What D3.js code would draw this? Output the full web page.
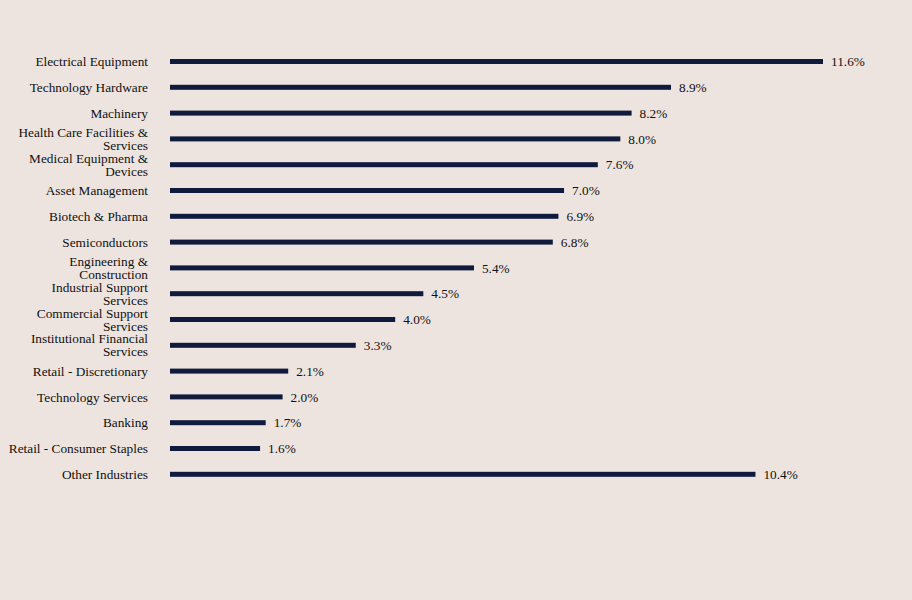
<!DOCTYPE html>
<html>
<head>
<meta charset="utf-8">
<script src="https://cdn.jsdelivr.net/npm/d3@7/dist/d3.min.js"></script>
<style>
    body {
        margin: 0;
        background: #ede4df;
    }

    text.cat, text.val {
        font-family: "Liberation Serif", "Times New Roman", serif;
        font-size: 13.3px;
        fill: #111;
    }
</style>
</head>
<body>
<div id="chart"></div>
<script>
    var categories = [
        "Electrical Equipment",
        "Technology Hardware",
        "Machinery",
        "Health Care Facilities & Services",
        "Medical Equipment & Devices",
        "Asset Management",
        "Biotech & Pharma",
        "Semiconductors",
        "Engineering & Construction",
        "Industrial Support Services",
        "Commercial Support Services",
        "Institutional Financial Services",
        "Retail - Discretionary",
        "Technology Services",
        "Banking",
        "Retail - Consumer Staples",
        "Other Industries"
    ];
    var values = [11.6, 8.9, 8.2, 8.0, 7.6, 7.0, 6.9, 6.8, 5.4, 4.5, 4.0, 3.3, 2.1, 2.0, 1.7, 1.6, 10.4];

    var width = 912,
        height = 600;

    var svg = d3.select("#chart").append("svg")
        .attr("width", width)
        .attr("height", height);

    svg.append("rect")
        .attr("width", width)
        .attr("height", height)
        .attr("fill", "#ede4df");

    var x = d3.scaleLinear()
        .domain([0, 11.6])
        .range([170, 823]);

    var y = d3.scaleBand()
        .domain(categories)
        .range([48.6, 487.2])
        .padding(0);

    var barH = 5;

    svg.selectAll("rect.bar")
        .data(categories)
        .enter().append("rect")
        .attr("class", "bar")
        .attr("x", x(0))
        .attr("y", function (d) { return y(d) + y.bandwidth() / 2 - barH / 2; })
        .attr("width", function (d, i) { return x(values[i]) - x(0); })
        .attr("height", barH)
        .attr("fill", "#0f1a3c");

    svg.selectAll("text.val")
        .data(categories)
        .enter().append("text")
        .attr("class", "val")
        .attr("x", function (d, i) { return x(values[i]) + 8; })
        .attr("y", function (d) { return y(d) + y.bandwidth() / 2; })
        .attr("dy", "0.35em")
        .text(function (d, i) { return values[i].toFixed(1) + "%"; });

    // category labels, wrapped to fit the left margin
    var maxW = 141;
    svg.selectAll("text.cat")
        .data(categories)
        .enter().append("text")
        .attr("class", "cat")
        .attr("text-anchor", "end")
        .each(function (d) {
            var t = d3.select(this);
            var words = d.split(" "),
                lines = [],
                cur = [];
            var probe = t.append("tspan");
            words.forEach(function (w) {
                cur.push(w);
                probe.text(cur.join(" "));
                if (probe.node().getComputedTextLength() > maxW && cur.length > 1) {
                    cur.pop();
                    lines.push(cur.join(" "));
                    cur = [w];
                }
            });
            lines.push(cur.join(" "));
            probe.remove();

            var cy = y(d) + y.bandwidth() / 2,
                lh = 13,
                top = cy - (lines.length - 1) * lh / 2;
            lines.forEach(function (l, k) {
                t.append("tspan")
                    .attr("x", 148)
                    .attr("y", top + k * lh)
                    .attr("dy", "0.35em")
                    .text(l);
            });
        });
</script>
</body>
</html>
